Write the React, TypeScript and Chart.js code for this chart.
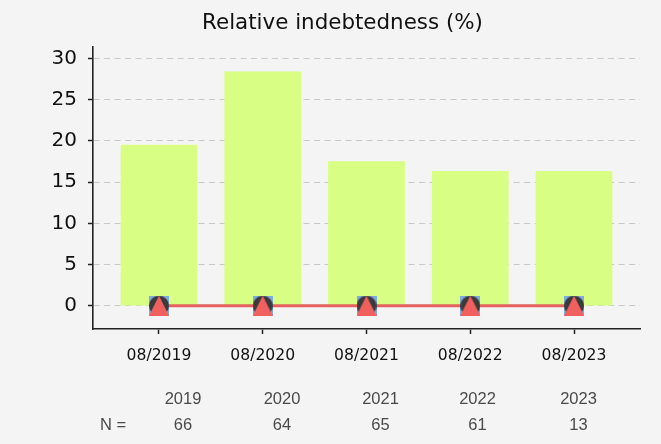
import React, { useEffect, useRef } from 'react';
import { Chart, registerables } from 'chart.js';

Chart.register(...registerables);

// ---- data ----
const categories = ['08/2019', '08/2020', '08/2021', '08/2022', '08/2023'];
const indebtedness = [19.5, 28.4, 17.5, 16.3, 16.3];
const seriesSquare = [0, 0, 0, 0, 0];
const seriesCircle = [0, 0, 0, 0, 0];
const seriesTriangle = [0, 0, 0, 0, 0];
const yTickStep = 5;
const tableYears = ['2019', '2020', '2021', '2022', '2023'];
const tableN = ['66', '64', '65', '61', '13'];
const tableRowLabel = 'N =';
const titleText = 'Relative indebtedness (%)';

// ---- layout constants ----
const W = 661;
const H = 444;
const tableColumnX = [183, 282, 380.5, 477.5, 578.5];

function makeMarker(kind: string, size: number, color: string) {
  const c = document.createElement('canvas');
  c.width = size;
  c.height = size;
  const ctx = c.getContext('2d')!;
  ctx.fillStyle = color;
  if (kind === 'square') {
    ctx.fillRect(0, 0, size, size);
  } else if (kind === 'circle') {
    ctx.beginPath();
    ctx.arc(size / 2, size / 2, size / 2, 0, Math.PI * 2);
    ctx.fill();
  } else {
    ctx.beginPath();
    ctx.moveTo(size / 2, 0);
    ctx.lineTo(size, size);
    ctx.lineTo(0, size);
    ctx.closePath();
    ctx.fill();
  }
  return c;
}

const toXY = (arr: number[]) => arr.map((v, i) => ({ x: i, y: v }));

export default function App() {
  const ref = useRef<HTMLCanvasElement>(null);

  useEffect(() => {
    document.body.style.margin = '0';
    const canvas = ref.current!;
    const sq = makeMarker('square', 20, '#7eaadf');
    const ci = makeMarker('circle', 20, '#3a3a3a');
    const tr = makeMarker('triangle', 20, '#f0605f');

    const decor = {
      id: 'decor',
      beforeDraw(chart: any) {
        const ctx = chart.ctx;
        ctx.save();
        ctx.fillStyle = '#f4f4f4';
        ctx.fillRect(0, 0, chart.width, chart.height);
        ctx.restore();
      },
      afterDraw(chart: any) {
        const ctx = chart.ctx;
        ctx.save();
        ctx.fillStyle = '#111111';
        ctx.font = '21.4px "DejaVu Sans"';
        ctx.textAlign = 'center';
        ctx.textBaseline = 'alphabetic';
        ctx.fillText(titleText, 342.5, 29);

        ctx.fillStyle = '#4a4a4a';
        ctx.font = '16.5px "Liberation Sans"';
        tableYears.forEach((t, i) => ctx.fillText(t, tableColumnX[i], 404));
        tableN.forEach((t, i) => ctx.fillText(t, tableColumnX[i], 430));
        ctx.textAlign = 'left';
        ctx.fillText(tableRowLabel, 100, 430);
        ctx.restore();
      },
    };

    const chart = new Chart(canvas, {
      type: 'bar',
      data: {
        datasets: [
          {
            type: 'bar',
            data: toXY(indebtedness),
            backgroundColor: '#d8fe84',
            borderWidth: 0,
            barThickness: 76,
            order: 5,
          } as any,
          {
            type: 'line',
            data: toXY(seriesTriangle),
            borderColor: '#e5605f',
            borderWidth: 3,
            pointRadius: 0,
            fill: false,
            order: 4,
          },
          {
            type: 'line',
            data: toXY(seriesSquare),
            showLine: false,
            pointStyle: sq,
            order: 3,
          },
          {
            type: 'line',
            data: toXY(seriesCircle),
            showLine: false,
            pointStyle: ci,
            order: 2,
          },
          {
            type: 'line',
            data: toXY(seriesTriangle),
            showLine: false,
            pointStyle: tr,
            order: 1,
          },
        ],
      },
      options: {
        responsive: false,
        animation: false,
        layout: { padding: { left: 0, right: 21, top: 47, bottom: 0 } },
        plugins: {
          legend: { display: false },
          title: { display: false },
          tooltip: { enabled: false },
        },
        scales: {
          x: {
            type: 'linear',
            offset: false,
            min: -0.636,
            max: 4.636,
            afterFit(scale: any) {
              scale.height = H - 329;
            },
            ticks: {
              stepSize: 1,
              includeBounds: false,
              color: '#111111',
              font: { family: '"DejaVu Sans"', size: 15.6 },
              padding: 13,
              maxRotation: 0,
              autoSkip: false,
              callback: (v: any) => categories[v] ?? '',
            },
            grid: {
              offset: false,
              drawOnChartArea: false,
              drawTicks: true,
              tickLength: 5,
              tickColor: '#222222',
              tickWidth: 1.5,
            },
            border: { display: true, color: '#222222', width: 1.6 },
          },
          y: {
            type: 'linear',
            min: -2.83,
            max: 31.4,
            afterFit(scale: any) {
              scale.width = 93;
            },
            ticks: {
              stepSize: yTickStep,
              includeBounds: false,
              color: '#111111',
              font: { family: '"DejaVu Sans"', size: 20 },
              padding: 11,
            },
            grid: {
              color: '#c8c8c8',
              lineWidth: 1,
              drawTicks: true,
              tickLength: 5,
              tickColor: '#222222',
              tickWidth: 1.5,
              tickBorderDash: [],
            },
            border: { display: true, color: '#222222', width: 1.6, dash: [6, 4.5] },
          },
        },
      } as any,
      plugins: [decor],
    });
    return () => chart.destroy();
  }, []);

  return <canvas ref={ref} width={W} height={H} style={{ display: 'block' }} />;
}
